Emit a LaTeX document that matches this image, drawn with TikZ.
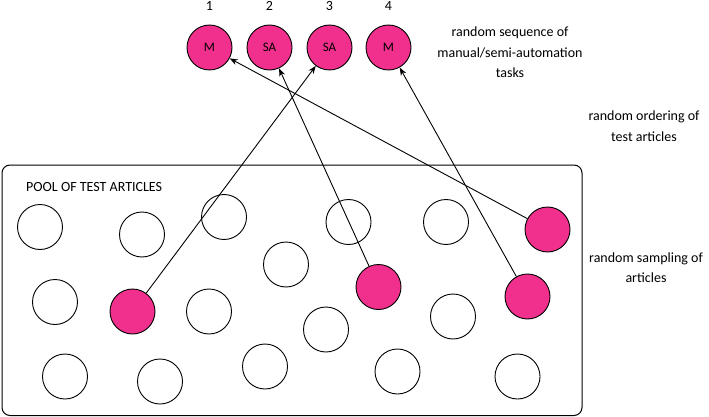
\documentclass[tikz,border=0pt]{standalone}
\usepackage{fontspec}
\setmainfont{Carlito}
\usetikzlibrary{arrows.meta}
\definecolor{pinkfill}{RGB}{240,48,140}
\tikzset{
  art/.style={circle,draw=black,line width=0.9pt,minimum size=45pt,inner sep=0pt},
  sel/.style={art,fill=pinkfill},
  lbl/.style={font=\fontsize{14}{17}\selectfont,inner sep=0pt,anchor=base},
  conn/.style={line width=0.9pt,-{Stealth[length=8pt,width=6pt]}}
}
\begin{document}
\begin{tikzpicture}[x=1pt,y=-1pt]
\useasboundingbox (0,0) rectangle (709,417);
% pool box
\draw[line width=1pt,rounded corners=8pt] (2,165) rectangle (582,415.5);
\node[lbl,anchor=base west] (pool) at (26,191) {POOL OF TEST ARTICLES};
% top sequence
\foreach \n/\x/\t in {1/209.5/M,2/269.5/SA,3/329.5/SA,4/388.5/M}{
  \node[sel,font=\fontsize{13}{15}\selectfont] (t\n) at (\x,47.5) {\t};
  \node[lbl] (n\n) at (\x,10.5) {\n};
}
% pool articles
\node[art] (c1) at (40,227) {};
\node[art] (c2) at (142,234.5) {};
\node[art] (c3) at (224,217) {};
\node[art] (c4) at (348.5,222) {};
\node[art] (c5) at (446,222) {};
\node[art] (c6) at (286,264.5) {};
\node[art] (c7) at (55,302) {};
\node[art] (c8) at (209,311.5) {};
\node[art] (c9) at (326,329.5) {};
\node[art] (c10) at (453,316.5) {};
\node[art] (c11) at (65,376.5) {};
\node[art] (c12) at (160,381.5) {};
\node[art] (c13) at (265,366.5) {};
\node[art] (c14) at (397.5,371.5) {};
\node[art] (c15) at (517.5,376.5) {};
\node[sel] (f1) at (547.5,229.5) {};
\node[sel] (f2) at (378.5,287) {};
\node[sel] (f3) at (527.5,296.5) {};
\node[sel] (f4) at (132.5,311.5) {};
% connectors
\draw[conn] (f4) -- (t3);
\draw[conn] (f2) -- (t2);
\draw[conn] (f1) -- (t1);
\draw[conn] (f3) -- (t4);
% side texts
\node[lbl] (s1) at (510,37) {random sequence of};
\node[lbl] (s2) at (510,57.5) {manual/semi-automation};
\node[lbl] (s3) at (510,78) {tasks};
\node[lbl] (o1) at (644,121) {random ordering of};
\node[lbl] (o2) at (644,141.5) {test articles};
\node[lbl] (r1) at (646,262) {random sampling of};
\node[lbl] (r2) at (646,282.5) {articles};
\end{tikzpicture}
\end{document}
